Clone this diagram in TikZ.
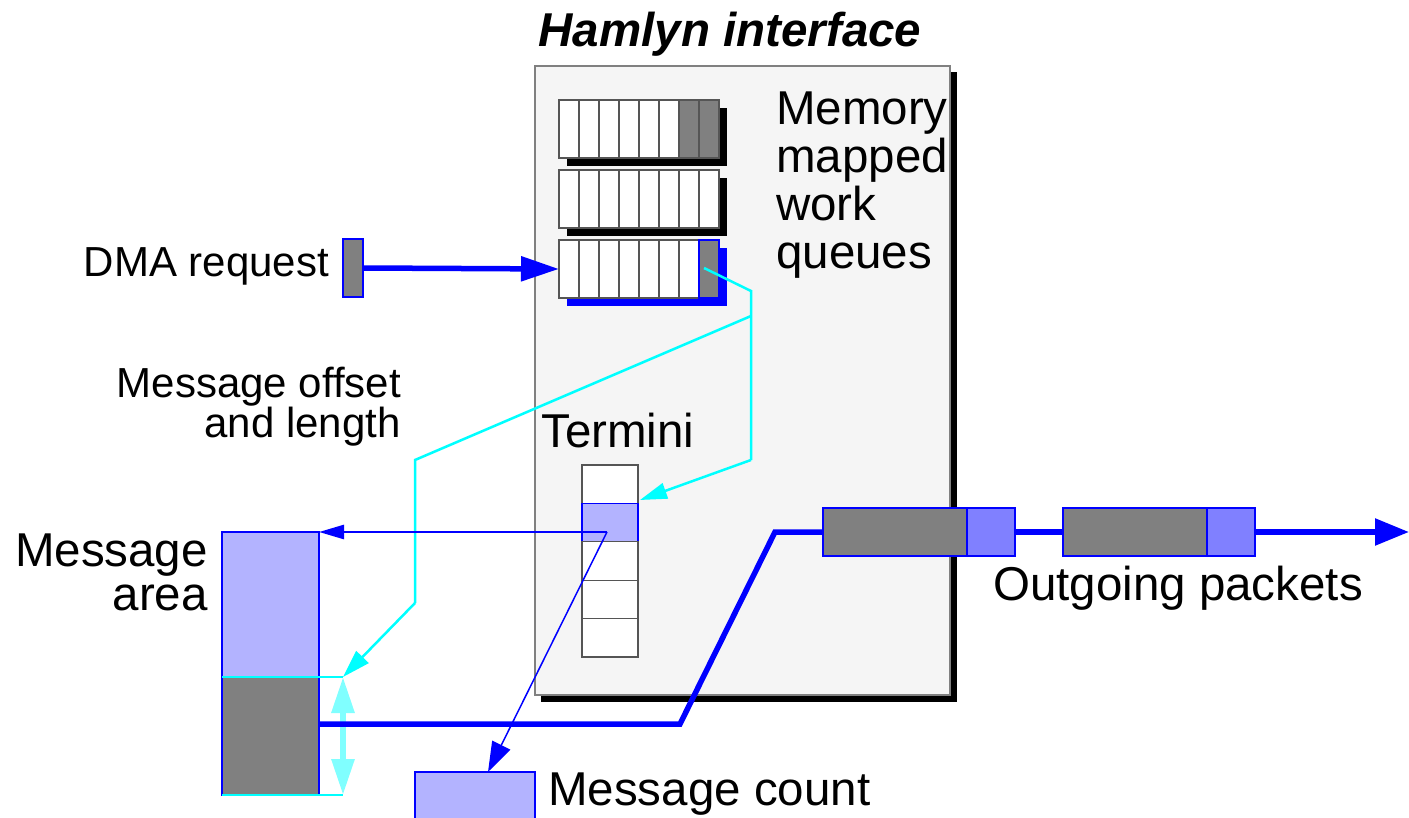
\documentclass[tikz,border=0pt]{standalone}
\usepackage{fontspec}
\setmainfont{Liberation Sans}
\usetikzlibrary{arrows.meta}
\definecolor{lav}{HTML}{B3B3FF}
\definecolor{pblue}{HTML}{8080FF}
\definecolor{mgray}{HTML}{808080}
\definecolor{lcyan}{HTML}{80FFFF}
\definecolor{cy}{HTML}{00FFFF}
\definecolor{bl}{HTML}{0000FF}
\definecolor{boxbg}{HTML}{F5F5F5}
\definecolor{cellline}{HTML}{555555}
\begin{document}
\begin{tikzpicture}[x=1pt,y=-1pt,
  rect/.style={draw, inner sep=0pt, outer sep=0pt, anchor=north west, line width=1.2pt},
  cell/.style={rect, draw=cellline, fill=white, minimum width=20pt, minimum height=58pt},
  gcell/.style={cell, fill=mgray},
  tcell/.style={rect, draw=cellline, fill=white, minimum width=56pt, minimum height=38.4pt},
  thickblue/.style={draw=bl, line width=5.5pt},
  thinblue/.style={draw=bl, line width=2pt},
  cyanline/.style={draw=cy, line width=2.5pt},
  bigtext/.style={inner sep=0pt, font=\fontsize{47.5}{48}\selectfont},
  midtext/.style={inner sep=0pt, font=\fontsize{42}{40}\selectfont},
]
\useasboundingbox (0,0) rectangle (1409,818);

% interface box with shadow
\fill[black] (541,72) rectangle (957,702);
\node[rect, draw=mgray, fill=boxbg, minimum width=415pt, minimum height=629pt] (hi) at (535,66) {};
\node[inner sep=0pt, anchor=base, font=\fontsize{47.5}{48}\selectfont\bfseries\itshape] (title) at (730,47) {Hamlyn interface};

% work queues
\fill[black] (567,108) rectangle (727,166);
\fill[black] (567,178) rectangle (727,236);
\fill[bl] (567,248) rectangle (727,306);
\foreach \i in {0,...,5} \node[cell] (qa\i) at (559+20*\i,100) {};
\node[gcell] (qa6) at (679,100) {};
\node[gcell] (qa7) at (699,100) {};
\foreach \i in {0,...,7} \node[cell] (qb\i) at (559+20*\i,170) {};
\foreach \i in {0,...,6} \node[cell] (qc\i) at (559+20*\i,240) {};
\node[gcell, draw=bl] (qc7) at (699,240) {};

\node[bigtext, anchor=north west, align=left] (mmwq) at (776,92) {Memory\\mapped\\work\\queues};

% DMA request
\node[midtext, anchor=base east] (dmal) at (329,277) {DMA request};
\node[rect, draw=bl, fill=mgray, minimum width=20pt, minimum height=58pt] (dma) at (343,239) {};
\draw[thickblue, -{Triangle[length=38pt,width=24pt]}] (dma.east) -- (qc0.west);

% termini
\node[bigtext, anchor=base west] (terl) at (541,447) {Termini};
\node[tcell] (t1) at (582,465) {};
\node[tcell, draw=bl, fill=lav] (t2) at (582,503.4) {};
\node[tcell] (t3) at (582,541.8) {};
\node[tcell] (t4) at (582,580.2) {};
\node[tcell] (t5) at (582,618.6) {};

% message area
\node[midtext, anchor=north east, align=right] (mol) at (401,367) {Message offset\\and length};
\node[bigtext, anchor=north east, align=right, font=\fontsize{47.5}{44}\selectfont] (mal) at (208,534) {Message\\area};
\node[rect, draw=bl, fill=lav, minimum width=97pt, minimum height=145pt] (ma1) at (222,532) {};
\node[rect, draw=bl, fill=mgray, minimum width=97pt, minimum height=118pt] (ma2) at (222,677) {};
\coordinate (cA) at (343,677);
\coordinate (cB) at (343,795);
\draw[draw=cy, line width=2pt] (ma2.north west) -- (cA);
\draw[draw=cy, line width=2pt] (ma2.south west) -- (cB);
\draw[draw=lcyan, line width=6pt, {Triangle[length=36pt,width=22pt]}-{Triangle[length=36pt,width=22pt]}] (cA) -- (cB);

% message count
\node[rect, draw=bl, fill=lav, minimum width=120pt, minimum height=52pt] (mc) at (415,772) {};
\node[bigtext, anchor=base west] (mcl) at (548,805) {Message count};

% cyan connectors
\coordinate (c0) at (704,268);
\coordinate (c1) at (751,291);
\coordinate (c2) at (751,316);
\coordinate (c3) at (751,460);
\coordinate (c4) at (415,460);
\coordinate (c5) at (415,603);
\coordinate (ct) at (640,500);
\draw[cyanline, line join=miter] (c0) -- (c1) -- (c3);
\draw[cyanline, -{Triangle[length=27pt,width=16pt]}] (c3) -- (ct);
\draw[cyanline] (c2) -- (c4) -- (c5);
\draw[cyanline, -{Triangle[length=28pt,width=17pt]}] (c5) -- (cA);

% thin blue pointers
\coordinate (tp) at (607,532);
\coordinate (mct) at (488,772);
\draw[thinblue, line width=2.7pt, -{Triangle[length=25pt,width=14pt]}] (tp) -- (ma1.north east);
\draw[thinblue, line width=1.5pt, -{Triangle[length=30pt,width=20pt]}] (tp) -- (mct);

% outgoing packets
\coordinate (o0) at (319,724);
\coordinate (o1) at (680,724);
\coordinate (o2) at (775,532);
\coordinate (oend) at (1409,532);
\node[rect, draw=bl, fill=mgray, minimum width=144pt, minimum height=48pt] (p1a) at (823,508) {};
\node[rect, draw=bl, fill=pblue, minimum width=48pt, minimum height=48pt] (p1b) at (967,508) {};
\node[rect, draw=bl, fill=mgray, minimum width=144pt, minimum height=48pt] (p2a) at (1063,508) {};
\node[rect, draw=bl, fill=pblue, minimum width=48pt, minimum height=48pt] (p2b) at (1207,508) {};
\draw[thickblue, line join=miter] (o0) -- (o1) -- (o2) -- (p1a.west);
\draw[thickblue] (p1b.east) -- (p2a.west);
\draw[thickblue, -{Triangle[length=34pt,width=26pt]}] (p2b.east) -- (oend);
\node[bigtext, anchor=base west] (opl) at (993,600) {Outgoing packets};
\end{tikzpicture}
\end{document}
